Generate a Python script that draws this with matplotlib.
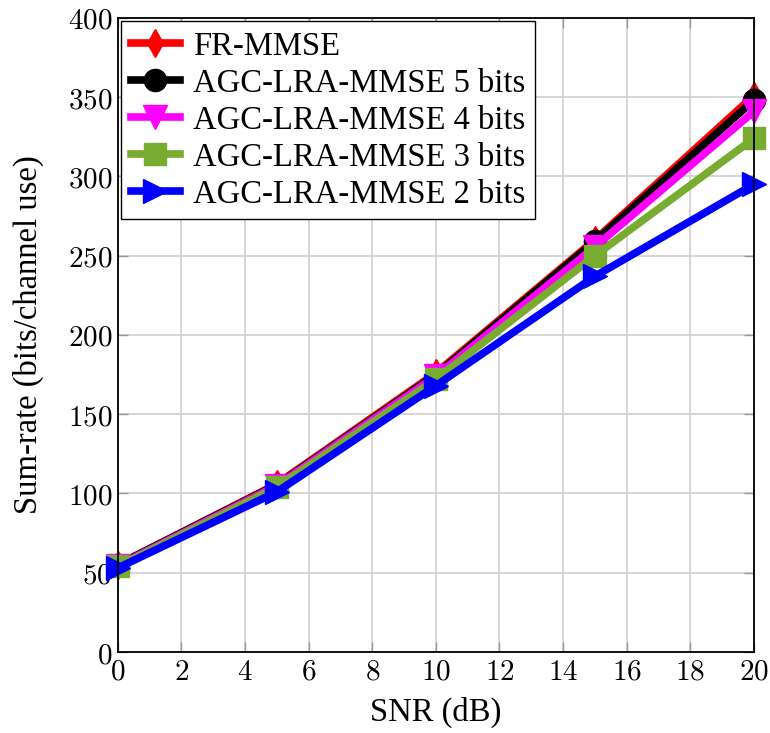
import matplotlib
matplotlib.use("Agg")
import matplotlib.pyplot as plt

snr = [0, 5, 10, 15, 20]
fr_mmse = [55, 106, 176, 260, 351]
agc5 = [55, 105.5, 175, 259, 348]
agc4 = [54.5, 105, 174, 255.5, 341]
agc3 = [54, 104, 172, 250, 324]
agc2 = [53, 101, 168, 237, 295]

labels = ["FR-MMSE", "AGC-LRA-MMSE 5 bits", "AGC-LRA-MMSE 4 bits",
          "AGC-LRA-MMSE 3 bits", "AGC-LRA-MMSE 2 bits"]
series = [fr_mmse, agc5, agc4, agc3, agc2]
colors = ["#ff0000", "#000000", "#ff00ff", "#77ac30", "#0000ff"]
markers = ["d", "o", "v", "s", ">"]
msizes = [14, 16, 17, 16, 17]

xticks = list(range(0, 21, 2))
yticks = list(range(0, 401, 50))

plt.rcParams["mathtext.fontset"] = "cm"
serif = ["Liberation Serif", "DejaVu Serif"]

fig = plt.figure(figsize=(7.7, 7.33), dpi=100)
ax = fig.add_axes([0.153, 0.1105, 0.826, 0.865])

for y, lab, c, m, ms in zip(series, labels, colors, markers, msizes):
    ax.plot(snr, y, color=c, marker=m, markersize=ms, linewidth=5.5,
            label=lab, clip_on=False, solid_joinstyle="miter")

ax.set_xlim(0, 20)
ax.set_ylim(0, 400)
ax.set_xticks(xticks)
ax.set_yticks(yticks)
ax.set_xticklabels([f"${v}$" for v in xticks])
ax.set_yticklabels([f"${v}$" for v in yticks])
ax.tick_params(axis="both", direction="in", length=7, width=1, color="#999999",
               labelsize=21, top=True, right=True, pad=4)
ax.grid(True, color="#d0d0d0", linewidth=1.2)
ax.set_axisbelow(True)
for s in ax.spines.values():
    s.set_linewidth(1.3)
    s.set_color("black")

ax.set_xlabel("SNR (dB)", fontsize=23.5, family=serif, labelpad=8)
ax.set_ylabel("Sum-rate (bits/channel use)", fontsize=23.5, family=serif, labelpad=17)

leg = ax.legend(loc="upper left", prop={"family": serif, "size": 23.5},
                numpoints=1, handlelength=1.5, handletextpad=0.4,
                labelspacing=0.2, borderaxespad=0.1, borderpad=0.3,
                fancybox=False, framealpha=1, edgecolor="black")
leg.get_frame().set_linewidth(1.0)

fig.savefig("out.png", dpi=100)
